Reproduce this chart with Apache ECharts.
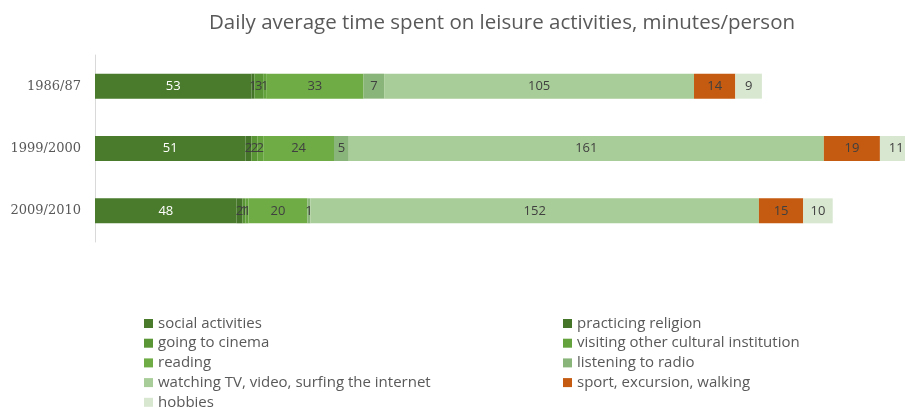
<!DOCTYPE html>
<html><head><meta charset="utf-8">
<script src="https://cdn.jsdelivr.net/npm/echarts@6/dist/echarts.min.js"></script>
<style>html,body{margin:0;padding:0;background:#fff}#c{width:905px;height:409px}</style>
</head><body><div id="c"></div>
<script>
const categories = ['1986/87', '1999/2000', '2009/2010'];
const seriesNames = ['social activities', 'practicing religion', 'going to cinema', 'visiting other cultural institution', 'reading', 'listening to radio', 'watching TV, video, surfing the internet', 'sport, excursion, walking', 'hobbies'];
const socialActivities = [53, 51, 48];
const practicingReligion = [1, 2, 2];
const goingToCinema = [3, 2, 1];
const visitingCultural = [1, 2, 1];
const reading = [33, 24, 20];
const listeningRadio = [7, 5, 1];
const watchingTV = [105, 161, 152];
const sportWalking = [14, 19, 15];
const hobbies = [9, 11, 10];
const values = [socialActivities, practicingReligion, goingToCinema, visitingCultural, reading, listeningRadio, watchingTV, sportWalking, hobbies];
const colors = ['#4a7b2c', '#447529', '#5b9636', '#64a23d', '#6fac46', '#8ab57a', '#a9cd98', '#c55a11', '#d8e7d0'];
const labelColors = ['#ffffff', '#404040', '#404040', '#404040', '#404040', '#404040', '#404040', '#404040', '#404040'];

const chart = echarts.init(document.getElementById('c'));
const series = seriesNames.map((n, i) => ({
  name: n, type: 'bar', stack: 'total', barWidth: 25, clip: false,
  data: values[i],
  itemStyle: { color: colors[i] },
  label: { show: true, position: 'inside', color: labelColors[i], fontFamily: 'Open Sans', fontSize: 13 },
  emphasis: { disabled: true }
}));
const legendText = { color: '#595959', fontFamily: 'Open Sans', fontSize: 15, lineHeight: 15 };
const legendBase = { orient: 'vertical', top: 316, height: 120, padding: 0, itemWidth: 9, itemHeight: 9, itemGap: 4.7, icon: 'rect', textStyle: legendText };
chart.setOption({
  animation: false,
  title: { text: 'Daily average time spent on leisure activities, minutes/person', left: 497, top: 8, textAlign: 'center',
    textStyle: { color: '#595959', fontFamily: 'Open Sans', fontSize: 20.5, fontWeight: 'normal' } },
  grid: { left: 95, right: 0, top: 55, height: 187 },
  xAxis: { type: 'value', min: 0, max: 274.5, show: false },
  yAxis: { type: 'category', data: categories, inverse: true,
    axisLine: { show: true, lineStyle: { color: '#d9d9d9' } }, axisTick: { show: false },
    axisLabel: { color: '#595959', fontFamily: 'DejaVu Serif', fontSize: 13, margin: 14 } },
  legend: [
    Object.assign({}, legendBase, { left: 144, data: [seriesNames[0], seriesNames[2], seriesNames[4], seriesNames[6], seriesNames[8]] }),
    Object.assign({}, legendBase, { left: 563, data: [seriesNames[1], seriesNames[3], seriesNames[5], seriesNames[7]] })
  ],
  series: series
});
</script></body></html>
